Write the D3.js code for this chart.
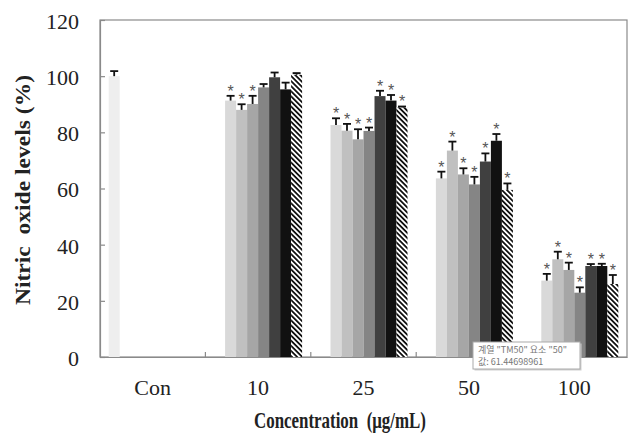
<!DOCTYPE html>
<html>
<head>
<meta charset="utf-8">
<script src="https://cdn.jsdelivr.net/npm/d3@7"></script>
<style>
  body { margin: 0; background: #fff; }
  svg { display: block; }
</style>
</head>
<body>
<svg id="chart" width="633" height="439"></svg>
<script>
// ---------- data ----------
const categories = ["Con", "10", "25", "50", "100"];
const seriesNames = ["Con", "S2", "S3", "S4", "TM50", "S6", "S7", "S8"];
const seriesColors = ["#eeeeee", "#d9d9d9", "#c0c0c0", "#a6a6a6", "#858585", "#404040", "#111111", "hatch"];

const valCon = [100, null, null, null, null];
const valS2  = [null, 91.3, 82.6, 63.6, 27.2];
const valS3  = [null, 88.0, 80.6, 73.5, 34.8];
const valS4  = [null, 90.1, 77.5, 65.0, 31.0];
const valS5  = [null, 96.0, 80.5, 61.45, 22.9];
const valS6  = [null, 99.6, 92.9, 69.6, 32.4];
const valS7  = [null, 95.3, 91.3, 77.0, 32.4];
const valS8  = [null, 100.5, 88.9, 59.5, 26.0];

const errCon = [1.8, null, null, null, null];
const errS2  = [null, 1.7, 2.4, 2.4, 2.4];
const errS3  = [null, 2.0, 2.4, 3.2, 2.7];
const errS4  = [null, 2.9, 3.6, 2.2, 2.6];
const errS5  = [null, 1.2, 1.2, 2.7, 1.9];
const errS6  = [null, 1.7, 1.9, 2.9, 0.7];
const errS7  = [null, 2.4, 2.0, 2.4, 0.8];
const errS8  = [null, 0.6, 0.3, 2.3, 3.2];

const sigCon = [false, false, false, false, false];
const sigS2  = [false, true, true, true, true];
const sigS3  = [false, true, true, true, true];
const sigS4  = [false, true, true, true, true];
const sigS5  = [false, false, true, true, true];
const sigS6  = [false, false, true, true, true];
const sigS7  = [false, false, true, true, true];
const sigS8  = [false, false, true, true, true];

const yTicks = [0, 20, 40, 60, 80, 100, 120];
const yTitle = "Nitric  oxide levels (%)";
const xTitle = "Concentration  (\u03bcg/mL)";
const tooltipLines = ["\uacc4\uc5f4 \"TM50\" \uc694\uc18c \"50\"", "\uac12: 61.44698961"];

const values = [valCon, valS2, valS3, valS4, valS5, valS6, valS7, valS8];
const errors = [errCon, errS2, errS3, errS4, errS5, errS6, errS7, errS8];
const sigs   = [sigCon, sigS2, sigS3, sigS4, sigS5, sigS6, sigS7, sigS8];

// ---------- layout ----------
const svg = d3.select("#chart");
const L = 100, R = 627, T = 20, B = 357;

const x0 = d3.scaleBand().domain(categories).range([L, R]).padding(0);
const x1 = d3.scaleBand().domain(seriesNames).range([0, x0.bandwidth()]).paddingInner(0).paddingOuter(0.79);
const y = d3.scaleLinear().domain([0, 120]).range([B, T]);

const defs = svg.append("defs");
const pat = defs.append("pattern").attr("id", "hatch")
  .attr("patternUnits", "userSpaceOnUse").attr("width", 3.6).attr("height", 3.6)
  .attr("patternTransform", "rotate(-45)");
pat.append("rect").attr("width", 3.6).attr("height", 3.6).attr("fill", "#fff");
pat.append("rect").attr("width", 1.8).attr("height", 3.6).attr("fill", "#111");

// frame
svg.append("rect").attr("x", L).attr("y", T).attr("width", R - L).attr("height", B - T)
  .attr("fill", "none").attr("stroke", "#8a8a8a").attr("stroke-width", 1.2);

// records
const records = [];
seriesNames.forEach((s, si) => {
  categories.forEach((c, ci) => {
    const v = values[si][ci];
    if (v !== null) records.push({ s, si, c, v, e: errors[si][ci], sig: sigs[si][ci] });
  });
});

// bars
svg.append("g").selectAll("rect").data(records).join("rect")
  .attr("x", d => x0(d.c) + x1(d.s))
  .attr("y", d => y(d.v))
  .attr("width", x1.bandwidth())
  .attr("height", d => y(0) - y(d.v))
  .attr("fill", d => seriesColors[d.si] === "hatch" ? "url(#hatch)" : seriesColors[d.si]);

// error bars (upper only)
const eg = svg.append("g").attr("stroke", "#111").attr("stroke-width", 1.8);
records.forEach(d => {
  const cx = x0(d.c) + x1(d.s) + x1.bandwidth() / 2;
  eg.append("line").attr("x1", cx).attr("x2", cx).attr("y1", y(d.v)).attr("y2", y(d.v + d.e));
  eg.append("line").attr("x1", cx - 4).attr("x2", cx + 4).attr("y1", y(d.v + d.e)).attr("y2", y(d.v + d.e));
});

// significance stars
svg.append("g").selectAll("text").data(records.filter(d => d.sig)).join("text")
  .attr("x", d => x0(d.c) + x1(d.s) + x1.bandwidth() / 2)
  .attr("y", d => y(d.v + d.e) + 1)
  .attr("text-anchor", "middle")
  .attr("font-family", "Liberation Sans, Arial, sans-serif")
  .attr("font-size", 16)
  .attr("fill", "#555")
  .text("*");

// y axis
const yAxis = d3.axisLeft(y).tickValues(yTicks).tickSizeInner(-5).tickSizeOuter(0).tickPadding(21);
const gy = svg.append("g").attr("transform", `translate(${L},0)`).call(yAxis);
gy.select(".domain").attr("stroke", "#8a8a8a").attr("stroke-width", 1.2);
gy.selectAll(".tick line").attr("stroke", "#8a8a8a").attr("stroke-width", 1.2);
gy.selectAll(".tick text").attr("font-family", "Liberation Serif, serif").attr("font-size", 22)
  .attr("fill", "#222").attr("dy", "0.38em");

// x axis (category labels)
const xAxis = d3.axisBottom(x0).tickSize(0).tickPadding(22);
const gx = svg.append("g").attr("transform", `translate(0,${B})`).call(xAxis);
gx.select(".domain").attr("stroke", "#8a8a8a").attr("stroke-width", 1.2);
gx.selectAll(".tick text").attr("font-family", "Liberation Serif, serif").attr("font-size", 22).attr("fill", "#222");

// category separators
svg.append("g").selectAll("line").data(categories.slice(1)).join("line")
  .attr("x1", d => x0(d)).attr("x2", d => x0(d))
  .attr("y1", B).attr("y2", B - 5)
  .attr("stroke", "#8a8a8a").attr("stroke-width", 1.2);

// axis titles
svg.append("text")
  .attr("transform", `translate(30,190) rotate(-90)`)
  .attr("text-anchor", "middle")
  .attr("font-family", "Liberation Serif, serif").attr("font-weight", "bold")
  .attr("font-size", 20).attr("fill", "#222")
  .attr("textLength", 230).attr("lengthAdjust", "spacingAndGlyphs")
  .attr("xml:space", "preserve")
  .text(yTitle);

svg.append("text")
  .attr("x", 340).attr("y", 428)
  .attr("text-anchor", "middle")
  .attr("font-family", "Liberation Serif, serif").attr("font-weight", "bold")
  .attr("font-size", 24).attr("fill", "#222")
  .attr("textLength", 172).attr("lengthAdjust", "spacingAndGlyphs")
  .attr("xml:space", "preserve")
  .text(xTitle);

// tooltip
const tip = svg.append("g").attr("transform", "translate(473,342)");
tip.append("rect").attr("x", 1.5).attr("y", 1.5).attr("width", 107).attr("height", 27).attr("fill", "#cfcfcf");
tip.append("rect").attr("width", 107).attr("height", 27).attr("fill", "#fff").attr("stroke", "#aaa");
tip.selectAll("text").data(tooltipLines).join("text")
  .attr("x", 5).attr("y", (d, i) => 11 + i * 12)
  .attr("font-family", "Noto Sans CJK KR, sans-serif").attr("font-size", 9)
  .attr("fill", "#777")
  .text(d => d);
</script>
</body>
</html>
